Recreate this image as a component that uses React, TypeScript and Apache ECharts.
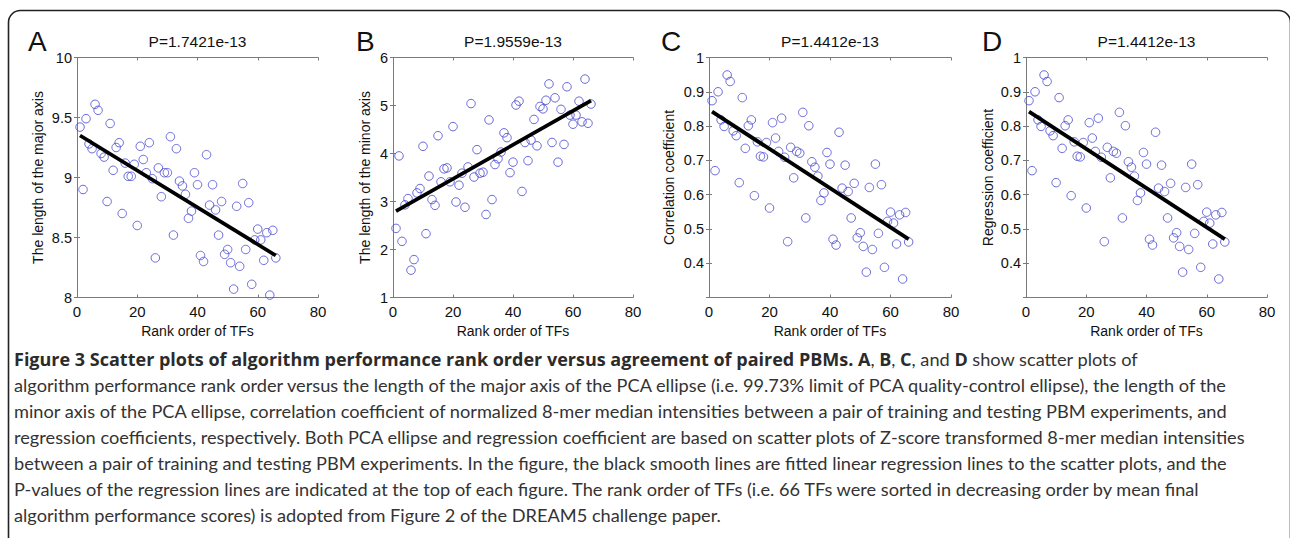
import React, { useEffect, useRef } from "react";
import * as echarts from "echarts";

// ---------- data ----------
const RANKS = [
  1, 2, 3, 4, 5, 6, 7, 8, 9, 10, 11, 12, 13, 14, 15, 16, 17, 18, 19, 20, 21, 22,
  23, 24, 25, 26, 27, 28, 29, 30, 31, 32, 33, 34, 35, 36, 37, 38, 39, 40, 41, 42,
  43, 44, 45, 46, 47, 48, 49, 50, 51, 52, 53, 54, 55, 56, 57, 58, 59, 60, 61, 62,
  63, 64, 65, 66,
];

const MAJOR_AXIS = [
  9.42, 8.9, 9.49, 9.28, 9.24, 9.61, 9.56, 9.2, 9.17, 8.8,
  9.45, 9.06, 9.25, 9.29, 8.7, 9.12, 9.01, 9.01, 9.11, 8.6,
  9.26, 9.15, 9.04, 9.29, 8.99, 8.33, 9.08, 8.84, 9.04, 9.04,
  9.34, 8.52, 9.24, 8.97, 8.93, 8.86, 8.66, 8.72, 9.04, 8.94,
  8.35, 8.3, 9.19, 8.77, 8.94, 8.73, 8.52, 8.8, 8.36, 8.4,
  8.29, 8.07, 8.76, 8.26, 8.95, 8.4, 8.79, 8.11, 8.48, 8.57,
  8.48, 8.31, 8.54, 8.02, 8.56, 8.33,
];

const MINOR_AXIS = [
  2.44, 3.95, 2.17, 2.93, 3.06, 1.57, 1.79, 3.18, 3.27, 4.15,
  2.33, 3.53, 3.04, 2.92, 4.37, 3.41, 3.68, 3.7, 3.41, 4.56,
  2.99, 3.34, 3.59, 2.88, 3.72, 5.04, 3.51, 4.08, 3.59, 3.61,
  2.73, 4.7, 3.04, 3.77, 3.89, 4.03, 4.43, 4.33, 3.6, 3.82,
  5.01, 5.09, 3.21, 4.23, 3.85, 4.28, 4.71, 4.16, 4.98, 4.93,
  5.11, 5.45, 4.23, 5.16, 3.82, 4.92, 4.19, 5.39, 4.8, 4.61,
  4.8, 5.09, 4.66, 5.55, 4.63, 5.03,
];

const CORRELATION = [
  0.874, 0.67, 0.9, 0.818, 0.799, 0.949, 0.93, 0.786, 0.772, 0.635,
  0.883, 0.735, 0.801, 0.818, 0.597, 0.754, 0.712, 0.71, 0.752, 0.561,
  0.81, 0.765, 0.726, 0.823, 0.709, 0.463, 0.738, 0.649, 0.726, 0.721,
  0.84, 0.532, 0.801, 0.696, 0.68, 0.654, 0.583, 0.605, 0.723, 0.689,
  0.47, 0.453, 0.782, 0.619, 0.686, 0.609, 0.532, 0.633, 0.474, 0.489,
  0.449, 0.374, 0.621, 0.44, 0.689, 0.487, 0.629, 0.388, 0.522, 0.549,
  0.517, 0.456, 0.541, 0.354, 0.548, 0.462,
];

const REGRESSION = [
  0.874, 0.67, 0.9, 0.818, 0.799, 0.949, 0.93, 0.786, 0.772, 0.635,
  0.883, 0.735, 0.801, 0.818, 0.597, 0.754, 0.712, 0.71, 0.752, 0.561,
  0.81, 0.765, 0.726, 0.823, 0.709, 0.463, 0.738, 0.649, 0.726, 0.721,
  0.84, 0.532, 0.801, 0.696, 0.68, 0.654, 0.583, 0.605, 0.723, 0.689,
  0.47, 0.453, 0.782, 0.619, 0.686, 0.609, 0.532, 0.633, 0.474, 0.489,
  0.449, 0.374, 0.621, 0.44, 0.689, 0.487, 0.629, 0.388, 0.522, 0.549,
  0.517, 0.456, 0.541, 0.354, 0.548, 0.462,
];

// fitted regression line end points [rank, value]
const FIT_X = [1, 66];
const FIT_MAJOR = [9.35, 8.35];
const FIT_MINOR = [2.8, 5.1];
const FIT_CORR = [0.842, 0.47];
const FIT_REG = [0.842, 0.47];

const PANEL_LETTERS = ["A", "B", "C", "D"];
const P_VALUES = ["P=1.7421e-13", "P=1.9559e-13", "P=1.4412e-13", "P=1.4412e-13"];
const Y_NAMES = [
  "The length of the major axis",
  "The length of the minor axis",
  "Correlation coefficient",
  "Regression coefficient",
];
const X_NAME = "Rank order of TFs";
const X_RANGE = [0, 80, 20];
const Y_RANGES = [
  [8, 10, 0.5],
  [1, 6, 1],
  [0.3, 1, 0.1],
  [0.3, 1, 0.1],
];
const Y_HIDDEN_LABEL = [null, null, 0.3, 0.3];

const CAPTION_LINES = [
  "{b|Figure 3 Scatter plots of algorithm performance rank order versus agreement of paired PBMs. A}{n|, }{b|B}{n|, }{b|C}{n|, and }{b|D}{n| show scatter plots of}",
  "{n|algorithm performance rank order versus the length of the major axis of the PCA ellipse (i.e. 99.73% limit of PCA quality-control ellipse), the length of the}",
  "{n|minor axis of the PCA ellipse, correlation coefficient of normalized 8-mer median intensities between a pair of training and testing PBM experiments, and}",
  "{n|regression coefficients, respectively. Both PCA ellipse and regression coefficient are based on scatter plots of Z-score transformed 8-mer median intensities}",
  "{n|between a pair of training and testing PBM experiments. In the figure, the black smooth lines are fitted linear regression lines to the scatter plots, and the}",
  "{n|P-values of the regression lines are indicated at the top of each figure. The rank order of TFs (i.e. 66 TFs were sorted in decreasing order by mean final}",
  "{n|algorithm performance scores) is adopted from Figure 2 of the DREAM5 challenge paper.}",
];

// ---------- layout ----------
const GRIDS = [
  { left: 77, top: 57.5, width: 241, height: 240 },
  { left: 393, top: 57.5, width: 240, height: 240 },
  { left: 709, top: 57.5, width: 242, height: 240 },
  { left: 1026, top: 57.5, width: 241, height: 240 },
];
const Y_NAME_GAPS = [32, 21, 33, 31];
const LETTER_X = [28, 356, 661, 982];

const FONT = "'Liberation Sans', Arial, Helvetica, sans-serif";
const AXIS_COLOR = "#7a7a7a";
const MARKER_COLOR = "#4646cf";

function fmt(v: number) {
  return String(Math.round(v * 1000) / 1000);
}

export default function App() {
  const ref = useRef<HTMLDivElement>(null);

  useEffect(() => {
    document.body.style.margin = "0";
    if (!ref.current) return;
    const chart = echarts.init(ref.current, undefined, { renderer: "svg" });

    const values = [MAJOR_AXIS, MINOR_AXIS, CORRELATION, REGRESSION];
    const fits = [FIT_MAJOR, FIT_MINOR, FIT_CORR, FIT_REG];

    const grid: any[] = [];
    const xAxis: any[] = [];
    const yAxis: any[] = [];
    const series: any[] = [];
    const title: any[] = [];

    GRIDS.forEach((g, i) => {
      grid.push({ ...g, containLabel: false });
      const [ymin, ymax, yint] = Y_RANGES[i];
      const hidden = Y_HIDDEN_LABEL[i];
      const baseTick = {
        show: true,
        inside: true,
        length: 3,
        lineStyle: { color: AXIS_COLOR, width: 1 },
      };
      const baseLine = { show: true, lineStyle: { color: AXIS_COLOR, width: 1 } };
      xAxis.push({
        type: "value",
        gridIndex: i,
        min: X_RANGE[0],
        max: X_RANGE[1],
        interval: X_RANGE[2],
        position: "bottom",
        axisLine: baseLine,
        axisTick: baseTick,
        splitLine: { show: false },
        axisLabel: { color: "#111", fontFamily: FONT, fontSize: 15, margin: 6 },
        name: X_NAME,
        nameLocation: "middle",
        nameGap: 26,
        nameTextStyle: { color: "#111", fontFamily: FONT, fontSize: 14 },
      });
      xAxis.push({
        type: "value",
        gridIndex: i,
        min: X_RANGE[0],
        max: X_RANGE[1],
        interval: X_RANGE[2],
        position: "top",
        axisLine: baseLine,
        axisTick: baseTick,
        splitLine: { show: false },
        axisLabel: { show: false },
      });
      yAxis.push({
        type: "value",
        gridIndex: i,
        min: ymin,
        max: ymax,
        interval: yint,
        position: "left",
        axisLine: baseLine,
        axisTick: baseTick,
        splitLine: { show: false },
        axisLabel: {
          color: "#111",
          fontFamily: FONT,
          fontSize: 14.5,
          margin: 5,
          formatter: (v: number) =>
            hidden !== null && Math.abs(v - hidden) < 1e-6 ? "" : fmt(v),
        },
        name: Y_NAMES[i],
        nameLocation: "middle",
        nameGap: Y_NAME_GAPS[i],
        nameTextStyle: { color: "#111", fontFamily: FONT, fontSize: 14 },
      });
      yAxis.push({
        type: "value",
        gridIndex: i,
        min: ymin,
        max: ymax,
        interval: yint,
        position: "right",
        axisLine: baseLine,
        axisTick: baseTick,
        splitLine: { show: false },
        axisLabel: { show: false },
      });

      series.push({
        type: "scatter",
        xAxisIndex: i * 2,
        yAxisIndex: i * 2,
        symbol: "circle",
        symbolSize: 8.5,
        itemStyle: {
          color: "rgba(0,0,0,0)",
          borderColor: MARKER_COLOR,
          borderWidth: 1,
        },
        data: RANKS.map((r, k) => [r, values[i][k]]),
        z: 2,
      });
      series.push({
        type: "line",
        xAxisIndex: i * 2,
        yAxisIndex: i * 2,
        showSymbol: false,
        symbol: "none",
        lineStyle: { color: "#000", width: 3.8 },
        data: FIT_X.map((x, k) => [x, fits[i][k]]),
        z: 3,
      });

      title.push({
        text: P_VALUES[i],
        left: g.left + g.width / 2,
        top: 33,
        textAlign: "center",
        textStyle: { fontFamily: FONT, fontSize: 15.5, fontWeight: "normal", color: "#111" },
        padding: 0,
      });
      title.push({
        text: PANEL_LETTERS[i],
        left: LETTER_X[i],
        top: 27,
        textStyle: { fontFamily: FONT, fontSize: 28, fontWeight: "normal", color: "#111" },
        padding: 0,
      });
    });

    const graphic: any[] = [
      {
        type: "rect",
        shape: { x: 8.5, y: 10.5, width: 1282, height: 620, r: 12 },
        style: { fill: "none", stroke: "#222", lineWidth: 1.6 },
        silent: true,
      },
    ];
    CAPTION_LINES.forEach((line, k) => {
      graphic.push({
        type: "text",
        left: 14,
        top: 350 + k * 26,
        style: {
          text: line,
          rich: {
            b: { fontFamily: "'Open Sans', 'Noto Sans', sans-serif", fontWeight: "bold", fontSize: 18, fill: "#2b2b2b" },
            n: { fontFamily: "Lato, 'Open Sans', sans-serif", fontWeight: "normal", fontSize: 18.2, fill: "#333" },
          },
        },
      });
    });

    chart.setOption({
      animation: false,
      backgroundColor: "#fff",
      title,
      grid,
      xAxis,
      yAxis,
      series,
      graphic,
    });

    return () => chart.dispose();
  }, []);

  return <div ref={ref} style={{ width: 1290, height: 538 }} />;
}
